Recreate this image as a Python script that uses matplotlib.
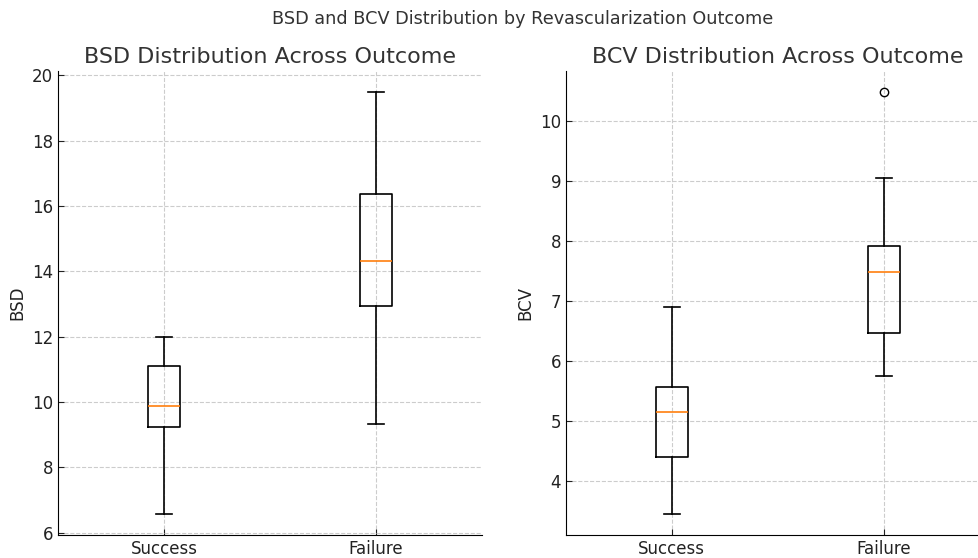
import matplotlib
matplotlib.use('Agg')
import matplotlib.pyplot as plt

# box statistics (per outcome group)
outcomes = ['Success', 'Failure']

bsd_whislo = [6.58, 9.33]
bsd_q1 = [9.24, 12.94]
bsd_med = [9.88, 14.32]
bsd_q3 = [11.10, 16.36]
bsd_whishi = [11.99, 19.48]
bsd_fliers = [[], []]

bcv_whislo = [3.45, 5.75]
bcv_q1 = [4.40, 6.47]
bcv_med = [5.15, 7.48]
bcv_q3 = [5.57, 7.92]
bcv_whishi = [6.90, 9.05]
bcv_fliers = [[], [10.48]]


def make_stats(lo, q1, med, q3, hi, fliers):
    return [dict(label=outcomes[i], whislo=lo[i], q1=q1[i], med=med[i], q3=q3[i],
                 whishi=hi[i], fliers=fliers[i]) for i in range(len(outcomes))]


plt.rcParams['xtick.direction'] = 'in'
plt.rcParams['ytick.direction'] = 'in'
plt.rcParams['font.family'] = ['DejaVu Sans']

text_color = '#333333'
tick_color = '#222222'

fig = plt.figure(figsize=(9.79, 5.58), dpi=100)
ax1 = fig.add_axes([0.0592, 0.0412, 0.4331, 0.8315])
ax2 = fig.add_axes([0.578, 0.0412, 0.4331, 0.8315])

panels = [
    (ax1, make_stats(bsd_whislo, bsd_q1, bsd_med, bsd_q3, bsd_whishi, bsd_fliers),
     'BSD Distribution Across Outcome', 'BSD'),
    (ax2, make_stats(bcv_whislo, bcv_q1, bcv_med, bcv_q3, bcv_whishi, bcv_fliers),
     'BCV Distribution Across Outcome', 'BCV'),
]

for ax, stats, title, ylabel in panels:
    ax.bxp(stats, widths=0.15,
           medianprops=dict(color='#ff7f0e', linewidth=1.2),
           boxprops=dict(linewidth=1.2),
           whiskerprops=dict(linewidth=1.2),
           capprops=dict(linewidth=1.2),
           flierprops=dict(marker='o', markerfacecolor='none', markeredgecolor='black',
                           markersize=6))
    ax.set_title(title, fontsize=16, color=text_color)
    ax.set_ylabel(ylabel, fontsize=12, color=tick_color)
    ax.grid(True, linestyle='--', color='#cccccc', linewidth=0.8)
    ax.set_axisbelow(True)
    ax.spines['top'].set_visible(False)
    ax.spines['right'].set_visible(False)
    ax.tick_params(labelsize=12, colors=tick_color, length=4)

# the original figure was wider than the saved crop, so the suptitle sits right of centre
fig.suptitle('BSD and BCV Distribution by Revascularization Outcome',
             fontsize=12.7, color=text_color, x=0.534, y=0.982)

fig.savefig('out.png', dpi=100)
